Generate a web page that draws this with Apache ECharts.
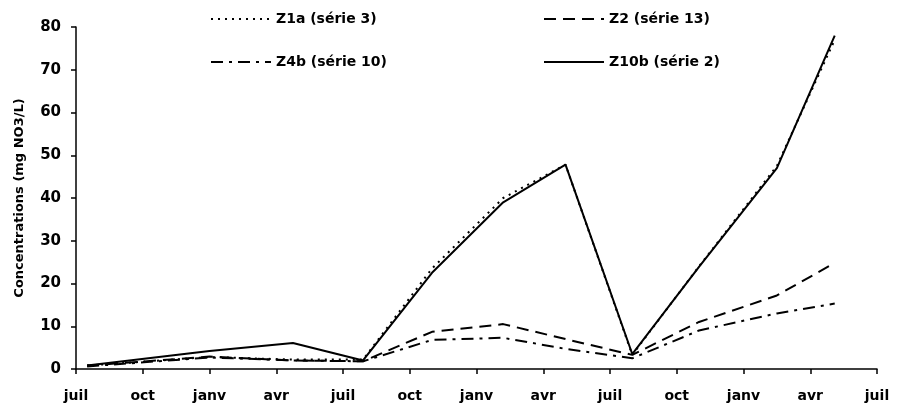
<!DOCTYPE html>
<html lang="fr">
<head>
    <meta charset="UTF-8">
    <title>Concentrations NO3</title>
    <script src="https://cdn.jsdelivr.net/npm/echarts@6/dist/echarts.min.js"></script>
    <style>
        html, body { margin: 0; padding: 0; background: #ffffff; }
        #main { width: 897px; height: 413px; }
    </style>
</head>
<body>
<div id="main"></div>

<script type="text/javascript">
    // months since the first "juil" tick
    var months = [0.5, 6, 9.75, 12.9, 16, 19.2, 22, 25, 28, 31.5, 34.1];
    var tickLabels = ['juil', 'oct', 'janv', 'avr', 'juil', 'oct', 'janv', 'avr', 'juil', 'oct', 'janv', 'avr', 'juil'];

    var z1a = [0.8, 2.8, 2.2, 2.2, 23.5, 40, 47.8, 3.3, 24, 47.5, 77];
    var z2 = [0.8, 2.9, 2.0, 1.8, 8.7, 10.5, 7.0, 3.3, 11, 17.2, 24.8];
    var z4b = [0.6, 2.7, 2.0, 1.8, 6.8, 7.3, 4.7, 2.5, 9, 13, 15.3];
    var z10b = [0.8, 4.2, 6.1, 2.0, 22.5, 39, 47.8, 3.5, 23.9, 47, 78];

    var names = ['Z1a (série 3)', 'Z2 (série 13)', 'Z4b (série 10)', 'Z10b (série 2)'];

    function pairs(vals) {
        var out = [];
        for (var i = 0; i < months.length; i++) {
            out.push([months[i], vals[i]]);
        }
        return out;
    }

    var font = 'DejaVu Sans, sans-serif';
    var myChart = echarts.init(document.getElementById('main'));

    var legendText = {
        color: '#000',
        fontFamily: font,
        fontWeight: 'bold',
        fontSize: 14
    };

    var option = {
        backgroundColor: '#ffffff',
        animation: false,
        grid: {
            left: 76,
            right: 20,
            top: 27,
            bottom: 44
        },
        legend: [{
            data: [names[0], names[2]],
            orient: 'vertical',
            left: 205,
            top: 7,
            itemWidth: 60,
            itemHeight: 14,
            itemGap: 29,
            itemStyle: { opacity: 0 },
            textStyle: legendText
        }, {
            data: [names[1], names[3]],
            orient: 'vertical',
            left: 538,
            top: 7,
            itemWidth: 60,
            itemHeight: 14,
            itemGap: 29,
            itemStyle: { opacity: 0 },
            textStyle: legendText
        }],
        xAxis: {
            type: 'value',
            min: 0,
            max: 36,
            interval: 3,
            splitLine: { show: false },
            axisLine: { lineStyle: { color: '#000', width: 1.5 } },
            axisTick: { length: 5, lineStyle: { color: '#000', width: 1.5 } },
            axisLabel: {
                color: '#000',
                fontFamily: font,
                fontWeight: 'bold',
                fontSize: 14,
                margin: 20,
                formatter: function (v) {
                    return tickLabels[Math.round(v / 3)];
                }
            }
        },
        yAxis: {
            type: 'value',
            min: 0,
            max: 80,
            interval: 10,
            name: 'Concentrations (mg NO3/L)',
            nameLocation: 'middle',
            nameGap: 50,
            nameTextStyle: {
                color: '#000',
                fontFamily: font,
                fontWeight: 'bold',
                fontSize: 13
            },
            splitLine: { show: false },
            axisLine: { show: true, lineStyle: { color: '#000', width: 1.5 } },
            axisTick: { show: true, length: 5, lineStyle: { color: '#000', width: 1.5 } },
            axisLabel: {
                color: '#000',
                fontFamily: font,
                fontWeight: 'bold',
                fontSize: 15,
                margin: 15
            }
        },
        series: [{
            name: names[0],
            type: 'line',
            symbol: 'none',
            data: pairs(z1a),
            lineStyle: { color: '#000', width: 2, type: [2, 5] },
            itemStyle: { color: '#000' }
        }, {
            name: names[1],
            type: 'line',
            symbol: 'none',
            data: pairs(z2),
            lineStyle: { color: '#000', width: 2, type: [12, 7] },
            itemStyle: { color: '#000' }
        }, {
            name: names[2],
            type: 'line',
            symbol: 'none',
            data: pairs(z4b),
            lineStyle: { color: '#000', width: 2, type: [12, 6, 3, 6] },
            itemStyle: { color: '#000' }
        }, {
            name: names[3],
            type: 'line',
            symbol: 'none',
            data: pairs(z10b),
            lineStyle: { color: '#000', width: 2, type: 'solid' },
            itemStyle: { color: '#000' }
        }]
    };

    myChart.setOption(option);
</script>
</body>
</html>
